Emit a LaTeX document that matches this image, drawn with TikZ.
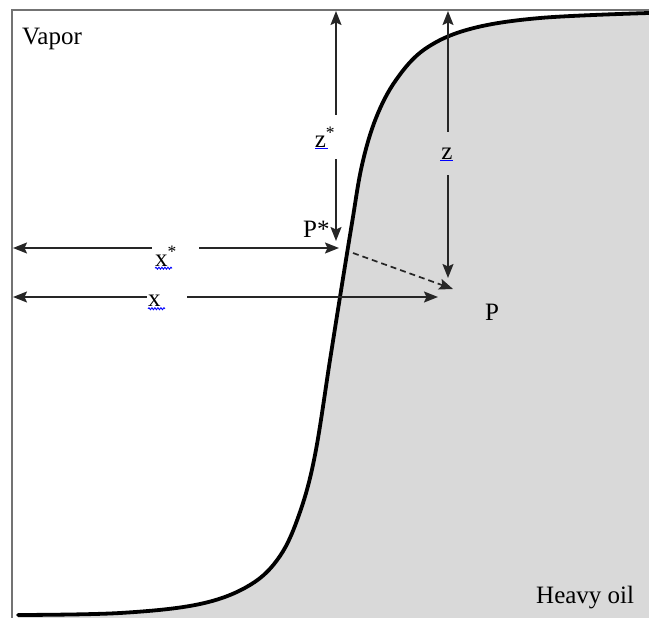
\documentclass[tikz,border=0pt]{standalone}
\usepackage{fontspec}
\setmainfont{Liberation Serif}
\usetikzlibrary{arrows.meta,decorations.pathmorphing}
\newcommand\oilfront{plot[smooth, tension=0.6] coordinates {(18,615) (120,613) (200,604) (250,585) (280,556) (300,512) (315,455) (330,360) (340,297) (352,223) (362,165) (376,118) (396,80) (425,49) (470,29) (540,18) (649,13)}}
\tikzset{
  tip/.tip={Stealth[length=14pt, width=11pt, inset=2.5pt]},
  dim/.style={draw=black!85, line width=1.7pt, tip-tip},
  lbl/.style={font=\fontsize{25}{30}\selectfont, inner sep=0pt},
  gapbox/.style={lbl, fill=white, align=left, minimum height=24pt},
  spell/.style={draw=blue, line width=0.9pt, decorate, decoration={snake, amplitude=1pt, segment length=3pt}},
  front/.style={line width=3.8pt, line cap=round}
}
\begin{document}
\begin{tikzpicture}[x=1pt, y=-1pt]
\useasboundingbox (0,0) rectangle (649,618);
% heavy oil side and the front
\fill[black!15] \oilfront -- (649,618) -- (18,618) -- cycle;
\draw[black!55, line width=2pt] (12,618) -- (12,10) -- (649,10);
\draw[front] \oilfront;

% end points of the arrows
\coordinate (zsTop) at (336,11);
\coordinate (zsEnd) at (336,241);
\coordinate (zTop) at (448,11);
\coordinate (zEnd) at (448,278);
\coordinate (xsLeft) at (13,248);
\coordinate (xsEnd) at (339,248);
\coordinate (xLeft) at (13,297);
\coordinate (xEnd) at (438,297);
\coordinate (Ps) at (353,253);
\coordinate (P) at (453,289);

\draw[dim] (zsTop) -- (zsEnd);
\draw[dim] (zTop) -- (zEnd);
\draw[dim] (xsLeft) -- (xsEnd);
\draw[dim] (xLeft) -- (xEnd);
\draw[draw=black!85, line width=1.7pt, dash pattern=on 6pt off 4pt, -tip] (Ps) -- (P);

% labels on the arrows
\node[gapbox, text width=41pt, inner xsep=3pt, anchor=west] (lxs) at (152,256) {x\textsuperscript{*}};
\node[gapbox, text width=38pt, inner xsep=1pt, anchor=west] (lx) at (147,301) {x};
\node[gapbox, align=center, minimum height=44pt, text width=28pt] (lzs) at (325,137) {z\textsuperscript{*}};
\node[gapbox, fill=black!15, align=center, minimum height=43pt, text width=20pt] (lz) at (447,154) {z};
\draw[spell] ([xshift=3pt, yshift=-2pt]lxs.base west) -- ++(17,0);
\draw[spell] ([xshift=1pt, yshift=-2pt]lx.base west) -- ++(17,0);
\draw[blue, line width=0.9pt] ([xshift=-10pt, yshift=-1pt]lzs.base) -- ++(13,0);
\draw[blue, line width=0.9pt] ([xshift=-7pt, yshift=-1pt]lz.base) -- ++(13,0);

% point labels and phases
\node[lbl, anchor=base west] (lPs) at (303,237) {P*};
\node[lbl, anchor=base west] (lP) at (485,320) {P};
\node[lbl, anchor=base west] (vap) at (22,45) {Vapor};
\node[lbl, anchor=base west] (oil) at (536,603) {Heavy oil};
\end{tikzpicture}
\end{document}
